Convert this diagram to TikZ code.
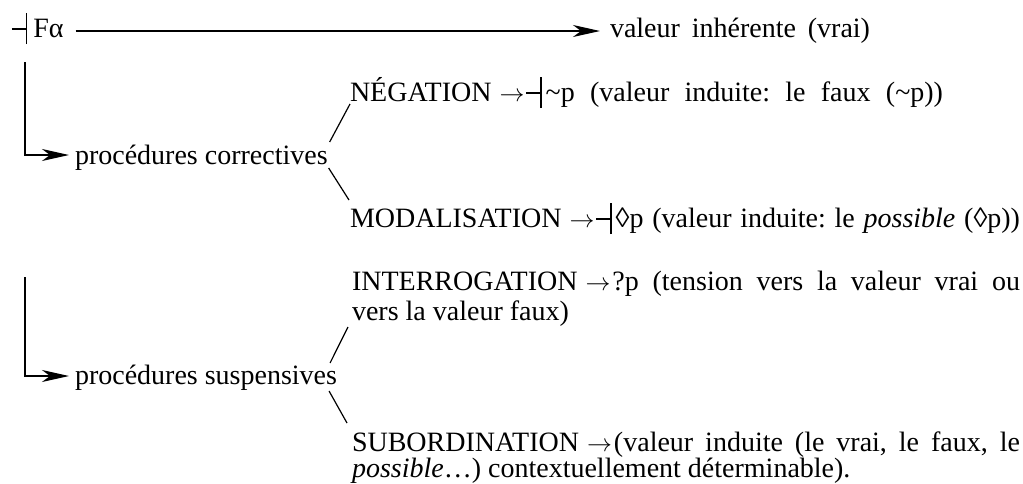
\documentclass[tikz,border=0pt]{standalone}
\usepackage{fontspec}
\setmainfont{Liberation Serif}
\usetikzlibrary{arrows.meta}
\frenchspacing
\newcommand\asrt{\rule[0.26em]{0.5em}{0.045em}\rule[-0.25em]{0.045em}{1.1em}}
\newcommand\rarr{\kern8pt$\rightarrow$}
\begin{document}
\begin{tikzpicture}[x=1pt,y=-1pt,
  txt/.style={inner sep=0pt, outer sep=0pt, font=\fontsize{28}{30}\selectfont\frenchspacing},
  para/.style={txt, text width=668pt, align=justify},
  link/.style={line width=1.2pt},
  arr/.style={line width=1.2pt, -{Stealth[length=27pt,width=12pt,inset=8pt]}}]
\useasboundingbox (0,0) rectangle (1023,483);
\node[txt, anchor=base west] (fa) at (12,37) {\asrt\kern6pt Fα};
\node[txt, anchor=base west] (val) at (610,37) {\makebox[260pt][s]{valeur inhérente (vrai)}};
\draw[arr, shorten <=12pt, shorten >=10pt] ([yshift=6pt]fa.base east) -- ([yshift=6pt]val.base west);
\node[txt, anchor=base west] (corr) at (75,164) {procédures correctives};
\coordinate (s1) at (25,62);
\draw[arr] (s1) |- ([yshift=9pt,xshift=-6pt]corr.base west);
\node[txt, anchor=base west] (neg) at (350,101) {\makebox[593pt][s]{NÉGATION\rarr\kern2pt\asrt\kern4pt\textasciitilde p (valeur induite: le faux (\textasciitilde p))}};
\node[txt, anchor=base west] (mod) at (350,227) {\makebox[670pt][s]{MODALISATION\rarr\kern2pt\asrt\kern4pt◊p (valeur induite: le \emph{possible} (◊p))}};
\draw[link] ([shift={(2pt,22pt)}]corr.base east) -- ([shift={(0pt,-3pt)}]neg.base west);
\draw[link] ([shift={(1pt,-4pt)}]corr.base east) -- ([shift={(-1pt,27pt)}]mod.base west);
\node[txt, anchor=base west] (susp) at (75,384) {procédures suspensives};
\coordinate (s2) at (25,277);
\draw[arr] (s2) |- ([yshift=8pt,xshift=-6pt]susp.base west);
\node[para, anchor=base west] (int) at (352,290) {INTERROGATION\rarr\kern2pt?p (tension vers la valeur vrai ou\linebreak vers la valeur faux)};
\node[para, anchor=base west, font=\fontsize{28}{24}\selectfont\frenchspacing] (sub) at (352,451) {SUBORDINATION\rarr\kern2pt(valeur induite (le vrai, le faux, le\linebreak \emph{possible}…) contextuellement déterminable).};
\draw[link] ([shift={(-7pt,21pt)}]susp.base east) -- ([shift={(-4pt,-37pt)}]int.base west);
\draw[link] ([shift={(-8pt,-7pt)}]susp.base east) -- ([shift={(-5pt,28pt)}]sub.base west);
\end{tikzpicture}
\end{document}
